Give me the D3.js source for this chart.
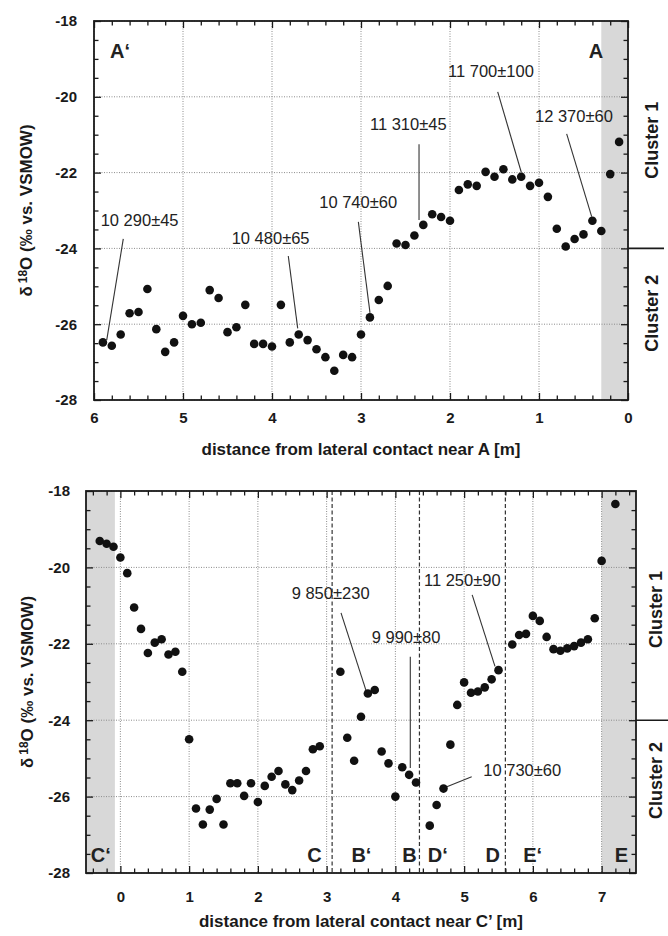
<!DOCTYPE html>
<html><head><meta charset="utf-8">
<script src="https://cdn.jsdelivr.net/npm/d3@7"></script>
<style>
body{margin:0;background:#fff}
svg{display:block;font-family:"Liberation Sans",Arial,Helvetica,sans-serif}
</style>
</head><body>
<svg id="chart" width="668" height="936"></svg>
<script>
// ---------- DATA ----------
const yTickValues = [-28, -26, -24, -22, -20, -18];
const topXTickValues = [6, 5, 4, 3, 2, 1, 0];
const bottomXTickValues = [0, 1, 2, 3, 4, 5, 6, 7];

const topDistance = [5.9,5.8,5.7,5.6,5.5,5.4,5.3,5.2,5.1,5.0,4.9,4.8,4.7,4.6,4.5,4.4,4.3,4.2,4.1,4.0,
  3.9,3.8,3.7,3.6,3.5,3.4,3.3,3.2,3.1,3.0,2.9,2.8,2.7,2.6,2.5,2.4,2.3,2.2,2.1,2.0,
  1.9,1.8,1.7,1.6,1.5,1.4,1.3,1.2,1.1,1.0,0.9,0.8,0.7,0.6,0.5,0.4,0.3,0.2,0.1];
const topD18O = [-26.48,-26.57,-26.27,-25.71,-25.68,-25.07,-26.13,-26.73,-26.48,-25.78,
  -26.00,-25.96,-25.10,-25.31,-26.21,-26.08,-25.49,-26.52,-26.52,-26.59,
  -25.49,-26.48,-26.27,-26.42,-26.66,-26.87,-27.23,-26.81,-26.87,-26.27,
  -25.82,-25.36,-24.99,-23.87,-23.91,-23.66,-23.38,-23.10,-23.17,-23.27,
  -22.46,-22.31,-22.35,-21.98,-22.11,-21.91,-22.18,-22.11,-22.35,-22.27,
  -22.64,-23.48,-23.95,-23.75,-23.63,-23.27,-23.54,-22.04,-21.19];

const bottomDistance = [-0.3,-0.2,-0.1,0.0,0.1,0.2,0.3,0.4,0.5,0.6,0.7,0.8,0.9,1.0,1.1,1.2,1.3,1.4,1.5,1.6,
  1.7,1.8,1.9,2.0,2.1,2.2,2.3,2.4,2.5,2.6,2.7,2.8,2.9,
  3.2,3.3,3.4,3.5,3.6,3.7,3.8,3.9,4.0,4.1,4.2,4.3,
  4.5,4.6,4.7,4.8,4.9,5.0,5.1,5.2,5.3,5.4,5.5,
  5.7,5.8,5.9,6.0,6.1,6.2,6.3,6.4,6.5,6.6,6.7,6.8,6.9,7.0,7.2];
const bottomD18O = [-19.31,-19.38,-19.46,-19.74,-20.15,-21.05,-21.61,-22.24,-21.97,-21.88,
  -22.28,-22.21,-22.73,-24.50,-26.31,-26.73,-26.34,-26.06,-26.73,-25.65,
  -25.65,-25.98,-25.65,-26.14,-25.72,-25.48,-25.33,-25.68,-25.83,-25.58,
  -25.33,-24.76,-24.68,
  -22.73,-24.46,-25.06,-23.91,-23.30,-23.21,-24.82,-25.13,-26.00,-25.23,-25.43,-25.63,
  -26.76,-26.22,-25.79,-24.64,-23.60,-23.01,-23.28,-23.25,-23.14,-22.93,-22.69,
  -22.02,-21.77,-21.74,-21.27,-21.40,-21.82,-22.14,-22.18,-22.12,-22.06,-21.97,-21.88,-21.33,-19.83,-18.34];

const topAgeLabels = ["10 290±45","10 480±65","10 740±60","11 310±45","11 700±100","12 370±60"];
const bottomAgeLabels = ["9 850±230","9 990±80","11 250±90","10 730±60"];
const topSectionLabels = ["A‘","A"];
const bottomSectionLabels = ["C‘","C","B‘","B","D‘","D","E‘","E"];
const bottomSectionBoundaries = [3.08, 4.35, 5.6];
const clusterLabels = ["Cluster 1","Cluster 2"];
const clusterBoundary = -24;
const topXTitle = "distance from lateral contact near A [m]";
const bottomXTitle = "distance from lateral contact near C’ [m]";

// ---------- LAYOUT (data coordinates for placement) ----------
const topLayout = {
  left: 94, right: 628, top: 21, bottom: 400,
  xDomain: [6, 0], bands: [[0.3, 0]],
  tickPad: 12.5, yPad: 17, titleY: 449, yTitleX: 26,
  clusterX: 24, clusterShift: [5.5, -11],
  minorX: d3.range(0.2, 6, 0.2),
  labelPos: [[5.925,-23.41],[4.453,-23.88],[3.469,-22.93],[2.899,-20.88],[2.022,-19.48],[1.045,-20.66]],
  leaders: [[5.671,-23.75,5.857,-26.42],[3.817,-24.20,3.711,-26.11],[3.030,-23.30,2.899,-25.70],
            [2.348,-21.25,2.348,-23.25],[1.464,-19.87,1.199,-21.99],[0.689,-20.98,0.408,-23.16]],
  sectionPos: [[5.82,-18.97,"start"],[0.28,-18.97,"end"]],
  boundaries: []
};
const bottomLayout = {
  left: 86, right: 636, top: 491, bottom: 873,
  xDomain: [-0.5, 7.5], bands: [[-0.5, -0.08], [7.0, 7.5]],
  tickPad: 18.5, yPad: 16, titleY: 921, yTitleX: 27,
  clusterX: 20, clusterShift: [4, -16],
  minorX: d3.range(-0.4, 7.5, 0.2),
  labelPos: [[2.492,-20.84],[3.656,-21.97],[4.416,-20.49],[5.279,-25.46]],
  leaders: [[3.209,-21.19,3.583,-23.28],[4.217,-22.34,4.217,-25.25],[5.117,-20.72,5.449,-22.59],[5.110,-25.48,4.722,-25.76]],
  sectionPos: [[-0.43,-27.7,"start"],[2.93,-27.7,"end"],[3.36,-27.7,"start"],[4.1,-27.7,"start"],
               [4.47,-27.7,"start"],[5.31,-27.7,"start"],[5.86,-27.7,"start"],[7.19,-27.7,"start"]],
  boundaries: bottomSectionBoundaries
};

// ---------- DRAW ----------
const svg = d3.select("#chart");
const INK = "#1a1a1a";

function drawPanel(L, xs, ys, ageLabels, sectionLabels, xTicks, xTitle) {
  const g = svg.append("g");
  const x = d3.scaleLinear().domain(L.xDomain).range([L.left, L.right]);
  const y = d3.scaleLinear().domain([-28, -18]).range([L.bottom, L.top]);
  const W = L.right - L.left, H = L.bottom - L.top;

  // grey bands
  g.append("g").selectAll("rect").data(L.bands).join("rect")
    .attr("x", d => Math.min(x(d[0]), x(d[1])))
    .attr("width", d => Math.abs(x(d[1]) - x(d[0])))
    .attr("y", L.top).attr("height", H).attr("fill", "#d8d8d8");

  // grid
  const grid = g.append("g").attr("stroke", "#8c8c8c").attr("stroke-width", 1).attr("stroke-dasharray", "1,1.5");
  grid.selectAll("line.gx").data(xTicks).join("line").attr("class","gx")
    .attr("x1", d => x(d)).attr("x2", d => x(d)).attr("y1", L.top).attr("y2", L.bottom);
  grid.selectAll("line.gy").data(yTickValues).join("line").attr("class","gy")
    .attr("y1", d => y(d)).attr("y2", d => y(d)).attr("x1", L.left).attr("x2", L.right);

  // section boundaries (dashed)
  g.append("g").selectAll("line").data(L.boundaries).join("line")
    .attr("x1", d => x(d)).attr("x2", d => x(d)).attr("y1", L.top).attr("y2", L.bottom)
    .attr("stroke", "#333").attr("stroke-width", 1.2).attr("stroke-dasharray", "4,2.5");

  // leader lines
  g.append("g").selectAll("line").data(L.leaders).join("line")
    .attr("x1", d => x(d[0])).attr("y1", d => y(d[1])).attr("x2", d => x(d[2])).attr("y2", d => y(d[3]))
    .attr("stroke", "#333").attr("stroke-width", 1.1);

  // age labels
  g.append("g").selectAll("text").data(ageLabels).join("text")
    .attr("x", (d, i) => x(L.labelPos[i][0])).attr("y", (d, i) => y(L.labelPos[i][1]))
    .attr("font-size", 16.5).attr("fill", "#222").text(d => d);

  // points
  g.append("g").selectAll("circle").data(xs.map((d, i) => [d, ys[i]])).join("circle")
    .attr("cx", d => x(d[0])).attr("cy", d => y(d[1])).attr("r", 4.3).attr("fill", "#111");

  // section letters
  g.append("g").selectAll("text").data(sectionLabels).join("text")
    .attr("x", (d, i) => x(L.sectionPos[i][0])).attr("y", (d, i) => y(L.sectionPos[i][1]))
    .attr("text-anchor", (d, i) => L.sectionPos[i][2])
    .attr("font-size", 20).attr("font-weight", "bold").attr("fill", "#222").text(d => d);

  // axes
  const minorY = d3.range(-27.5, -18, 0.5).filter(v => Math.abs(v % 2) > 0.01);
  const minorX = L.minorX.filter(v => Math.abs(v - Math.round(v)) > 0.01);
  function styleAxis(sel) {
    sel.select(".domain").remove();
    sel.selectAll(".tick line").attr("stroke", INK).attr("stroke-width", 1.3);
    sel.selectAll("text").attr("font-size", 15).attr("font-weight", "bold").attr("fill", INK)
      .attr("font-family", "'Liberation Sans',Arial,sans-serif");
  }
  const fmt = d => String(d);
  g.append("g").attr("transform", `translate(0,${L.bottom})`)
    .call(d3.axisBottom(x).tickValues(xTicks).tickSize(-7).tickPadding(L.tickPad).tickFormat(fmt)).call(styleAxis);
  g.append("g").attr("transform", `translate(0,${L.bottom})`)
    .call(d3.axisBottom(x).tickValues(minorX).tickSize(-4.5).tickFormat("")).call(styleAxis);
  g.append("g").attr("transform", `translate(0,${L.top})`)
    .call(d3.axisTop(x).tickValues(xTicks).tickSize(-7).tickFormat("")).call(styleAxis);
  g.append("g").attr("transform", `translate(0,${L.top})`)
    .call(d3.axisTop(x).tickValues(minorX).tickSize(-4.5).tickFormat("")).call(styleAxis);
  g.append("g").attr("transform", `translate(${L.left},0)`)
    .call(d3.axisLeft(y).tickValues(yTickValues).tickSize(-7).tickPadding(L.yPad).tickFormat(fmt)).call(styleAxis);
  g.append("g").attr("transform", `translate(${L.left},0)`)
    .call(d3.axisLeft(y).tickValues(minorY).tickSize(-4.5).tickFormat("")).call(styleAxis);
  g.append("g").attr("transform", `translate(${L.right},0)`)
    .call(d3.axisRight(y).tickValues(yTickValues).tickSize(-7).tickFormat("")).call(styleAxis);
  g.append("g").attr("transform", `translate(${L.right},0)`)
    .call(d3.axisRight(y).tickValues(minorY).tickSize(-4.5).tickFormat("")).call(styleAxis);

  // frame
  g.append("rect").attr("x", L.left).attr("y", L.top).attr("width", W).attr("height", H)
    .attr("fill", "none").attr("stroke", INK).attr("stroke-width", 1.8);

  // cluster boundary & labels
  g.append("line").attr("x1", L.right).attr("x2", L.right + 36)
    .attr("y1", y(clusterBoundary)).attr("y2", y(clusterBoundary))
    .attr("stroke", INK).attr("stroke-width", 1.6);
  const cx = L.right + L.clusterX;
  const cl = [(y(-18) + y(clusterBoundary)) / 2 + L.clusterShift[0], (y(clusterBoundary) + y(-28)) / 2 + L.clusterShift[1]];
  g.append("g").selectAll("text").data(clusterLabels).join("text")
    .attr("transform", (d, i) => `translate(${cx},${cl[i]}) rotate(-90)`)
    .attr("text-anchor", "middle").attr("dy", "0.35em")
    .attr("font-size", 18).attr("font-weight", "bold").attr("fill", INK).text(d => d);

  // x title
  g.append("text").attr("x", (L.left + L.right) / 2).attr("y", L.titleY).attr("dy", "0.35em")
    .attr("text-anchor", "middle").attr("font-size", 17).attr("font-weight", "bold").attr("fill", INK)
    .text(xTitle);

  // y title
  const yt = g.append("text").attr("transform", `translate(${L.yTitleX},${(L.top + L.bottom) / 2}) rotate(-90)`)
    .attr("text-anchor", "middle").attr("dy", "0.35em")
    .attr("font-size", 17).attr("font-weight", "bold").attr("fill", INK);
  yt.append("tspan").text("δ");
  yt.append("tspan").attr("font-size", 12).attr("dx", 3).attr("dy", "-0.45em").text("18");
  yt.append("tspan").attr("dy", "0.32em").text("O (‰ vs. VSMOW)");
}

drawPanel(topLayout, topDistance, topD18O, topAgeLabels, topSectionLabels, topXTickValues, topXTitle);
drawPanel(bottomLayout, bottomDistance, bottomD18O, bottomAgeLabels, bottomSectionLabels, bottomXTickValues, bottomXTitle);
</script>
</body></html>
